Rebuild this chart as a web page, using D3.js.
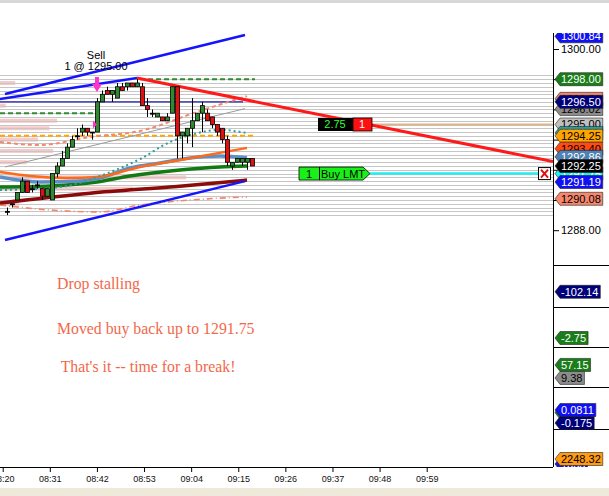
<!DOCTYPE html>
<html>
<head>
<meta charset="utf-8">
<script src="https://cdn.jsdelivr.net/npm/d3@7"></script>
<style>
  body { margin: 0; background: #fff; overflow: hidden; }
  svg { display: block; }
  text { font-family: "Liberation Sans", Arial, sans-serif; }
</style>
</head>
<body>
<div id="container"></div>
<script>
/* CONSTANTS AND GLOBALS */
const width = 609,
  height = 496,
  plot = { left: 0, right: 553, top: 33, bottom: 467 };

/* DATA */
// one candle per bar, bar index 0..49
const barOpen = [1289.25, 1289.75, 1290.00, 1290.50, 1291.25, 1290.75, 1291.00, 1290.75, 1290.25, 1290.00,
  1291.75, 1292.25, 1292.75, 1293.50, 1294.25, 1294.50, 1294.75, 1294.50, 1294.50, 1296.50,
  1297.25, 1297.00, 1296.75, 1297.50, 1297.50, 1297.75, 1297.50, 1297.50, 1296.25, 1295.75,
  1295.50, 1295.50, 1295.25, 1295.75, 1297.50, 1294.25, 1294.25, 1294.75, 1295.25, 1295.75,
  1295.75, 1295.50, 1295.00, 1294.75, 1294.00, 1292.25, 1292.50, 1292.50, 1292.50, 1292.75];
const barHigh = [1289.50, 1289.75, 1290.50, 1291.50, 1291.25, 1291.00, 1291.25, 1290.75, 1290.75, 1291.75,
  1292.50, 1293.25, 1293.75, 1294.25, 1294.75, 1295.00, 1294.75, 1294.50, 1296.75, 1297.25,
  1297.50, 1297.25, 1297.75, 1297.75, 1297.75, 1297.75, 1298.00, 1297.75, 1296.75, 1296.00,
  1295.75, 1295.50, 1295.75, 1297.50, 1297.50, 1294.50, 1294.75, 1296.75, 1295.75, 1296.50,
  1296.00, 1295.50, 1295.00, 1294.75, 1294.25, 1292.50, 1292.75, 1292.75, 1292.75, 1292.75];
const barLow = [1289.00, 1289.50, 1290.00, 1290.50, 1290.50, 1290.50, 1290.75, 1290.00, 1290.25, 1290.00,
  1291.50, 1292.25, 1292.75, 1293.50, 1294.00, 1294.25, 1294.25, 1294.00, 1294.50, 1296.50,
  1297.00, 1296.50, 1296.75, 1297.25, 1297.25, 1297.50, 1297.50, 1296.25, 1295.50, 1295.50,
  1295.50, 1295.25, 1295.25, 1295.75, 1292.75, 1292.75, 1293.75, 1293.50, 1295.25, 1294.50,
  1295.25, 1294.75, 1294.25, 1293.75, 1292.25, 1292.00, 1292.50, 1292.25, 1292.00, 1292.25];
const barClose = [1289.25, 1289.75, 1290.50, 1291.25, 1290.50, 1290.75, 1291.00, 1290.25, 1290.75, 1291.75,
  1292.25, 1292.75, 1293.50, 1294.00, 1294.25, 1294.75, 1294.50, 1294.50, 1296.50, 1297.00,
  1297.00, 1297.25, 1297.50, 1297.25, 1297.75, 1297.50, 1297.75, 1296.25, 1296.00, 1295.75,
  1295.75, 1295.25, 1295.50, 1297.50, 1294.25, 1294.50, 1294.75, 1295.25, 1295.75, 1296.25,
  1295.25, 1295.00, 1294.50, 1294.00, 1292.50, 1292.50, 1292.75, 1292.75, 1292.75, 1292.25];

// moving averages / bands as [bar index, price]
const maOrange = [[-1.4, 1291.85], [4.6, 1291.59], [12, 1291.46], [18, 1291.52], [26.6, 1292.19], [34.6, 1292.65], [48, 1293.45]];
const maSteel = [[-1.4, 1291.52], [6.6, 1291.19], [14.6, 1291.26], [18.6, 1291.46], [24.6, 1292.12], [30.6, 1292.45], [36.6, 1292.78], [42.6, 1292.91], [48, 1292.80]];
const maGreen = [[-1.4, 1290.86], [8.6, 1290.93], [18, 1291.19], [24.6, 1291.59], [34.6, 1291.99], [42.6, 1292.19], [48, 1292.25]];
const maMaroon = [[-1.4, 1289.80], [16.6, 1290.45], [34, 1290.90], [48, 1291.32]];
const maTeal = [[-1.4, 1290.66], [8.6, 1290.79], [14.6, 1291.13], [18.6, 1291.59], [26.6, 1292.71], [32.6, 1293.84], [36.6, 1294.30], [42.6, 1294.64], [48, 1294.44]];
const bandUpper = [[-1.4, 1293.84], [6.6, 1293.64], [16.6, 1294.17], [26.6, 1294.57], [38, 1295.83], [48, 1296.89]];
const bandLower = [[-1.4, 1289.67], [8.6, 1289.34], [18.6, 1289.21], [26.6, 1289.67], [36.6, 1290.00], [48, 1290.20]];
const regLine = [[-0.4, 1292.19], [47.6, 1296.05]];

// drawn trend lines
const blueTop = [[-0.4, 1297.02], [47.6, 1300.93]];
const blueMid = [[-1.4, 1296.69], [26, 1298.08]];
const blueLow = [[-0.4, 1287.35], [47.6, 1291.25]];
const redLine = [[26, 1298.08], [109.2, 1292.55]];

// volume profile
const profilePrices = [1297.75, 1296.25, 1295.25, 1294.75, 1294.00, 1293.25, 1292.50, 1291.50, 1290.75, 1289.75];
const profileVolume = [8, 3, 30, 26, 20, 28, 14, 98, 70, 10];

// price grid levels
const levelPrices = d3.range(1289, 1298.26, 0.25);

// time axis ticks
const timeTicks = ["08:20", "08:31", "08:42", "08:53", "09:04", "09:15", "09:26", "09:37", "09:48", "09:59"];
const priceTicks = [1288, 1290, 1292, 1294, 1296, 1298, 1300];

// right-hand price tags (drawn in this order)
const tagValues = [1300.84, 1296.70, 1296.02, 1296.50, 1298.00, 1295.00, 1294.44, 1294.25, 1293.40, 1292.86, 1291.75, 1291.19, 1292.25, 1290.08];
const tagFills = ["#1010f0", "#f4876e", "#8c8c8c", "#00007a", "#1a7d1a", "#c0c0c0", "#2a9d9d", "#ffa400", "#ff4a14", "#4f81b4", "#22f0f0", "#1010f0", "#000000", "#f4876e"];
const tagText = ["#fff", "#000", "#000", "#fff", "#fff", "#000", "#fff", "#000", "#000", "#fff", "#fff", "#fff", "#fff", "#000"];

// indicator panels below the price pane
const panelBounds = [[265, 307], [307, 347], [347, 387], [387, 429], [429, 467]];
const panelDomains = [[-160, 0], [-5, 5], [-24, 123], [-0.294, 0.535], [2230, 2317]];
const panelTagValues = [[-102.14], [-2.75], [57.15, 9.38], [0.03, 0.0811, -0.175], [2236.9, 2248.32]];
const panelTagLabels = [["-102.14"], ["-2.75"], ["57.15", "9.38"], ["0.033", "0.0811", "-0.175"], ["1855", "2248.32"]];
const panelTagFills = [["#00007a"], ["#1a7d1a"], ["#1a7d1a", "#8c8c8c"], ["#1a7d1a", "#1010f0", "#00007a"], ["#1010f0", "#ff9a14"]];
const panelTagText = [["#fff"], ["#fff"], ["#fff", "#000"], ["#fff", "#fff", "#fff"], ["#fff", "#000"]];

const notes = ["Drop stalling", "Moved buy back up to 1291.75", " That's it -- time for a break!"];

/* SCALES */
const xBar = d3.scaleLinear().domain([0, 49]).range([7, 252]);
const y = d3.scaleLinear().domain([1288, 1300]).range([230.2, 49]);
const parseT = d3.timeParse("%H:%M");
const xTime = d3.scaleTime().domain([parseT("08:20"), parseT("09:59")]).range([2.7, 426.7]);
const xVol = d3.scaleLinear().domain([0, 100]).range([0, 190]);

const svg = d3.select("#container").append("svg")
  .attr("width", width)
  .attr("height", height)
  .style("background", "#fff");

svg.append("defs").append("clipPath").attr("id", "plotClip")
  .append("rect").attr("x", plot.left).attr("y", plot.top)
  .attr("width", plot.right - plot.left).attr("height", plot.bottom - plot.top);
svg.select("defs").append("clipPath").attr("id", "tagClip")
  .append("rect").attr("x", plot.right).attr("y", plot.top)
  .attr("width", width - plot.right).attr("height", plot.bottom - plot.top);

// window chrome
svg.append("rect").attr("x", 0).attr("y", 0).attr("width", width).attr("height", 3).attr("fill", "#d8d8d8");
svg.append("rect").attr("x", 0).attr("y", 488).attr("width", width).attr("height", 8).attr("fill", "#efe9da");

const g = svg.append("g").attr("clip-path", "url(#plotClip)");

// volume profile
g.selectAll("rect.vol")
  .data(profilePrices)
  .join("rect")
  .attr("class", "vol")
  .attr("x", 0)
  .attr("y", d => y(d) - 2)
  .attr("width", (d, i) => xVol(profileVolume[i]))
  .attr("height", 4)
  .attr("fill", "#f7c9c9");

// price levels
g.selectAll("line.level")
  .data(levelPrices)
  .join("line")
  .attr("class", "level")
  .attr("x1", plot.left).attr("x2", plot.right)
  .attr("y1", d => Math.round(y(d)) + 0.5).attr("y2", d => Math.round(y(d)) + 0.5)
  .attr("stroke", "#c6c6c6").attr("stroke-width", 1);

function hline(price, i0, i1, color, w, dash) {
  g.append("line")
    .attr("x1", xBar(i0)).attr("x2", xBar(i1))
    .attr("y1", y(price)).attr("y2", y(price))
    .attr("stroke", color).attr("stroke-width", w)
    .attr("stroke-dasharray", dash || null);
}
hline(1296.50, -1.4, 47.2, "#1c1ca8", 1.2);
hline(1294.25, -1.4, 49.6, "#ffa400", 2, "5,3");
hline(1295.75, -1.4, 17.6, "#2e8b2e", 2, "5,3");
hline(1298.00, 26.6, 49.6, "#2e8b2e", 2, "5,3");
hline(1295.00, 73, 109.2, "#dcb58a", 2);
hline(1291.75, 72.6, 106.4, "#22eef0", 2.5);

const line = d3.line().x(d => xBar(d[0])).y(d => y(d[1])).curve(d3.curveMonotoneX);
const series = [
  [bandLower, "#f4876e", 1.6, "6,3,1,3"],
  [maMaroon, "#8b0a0a", 3.5],
  [maGreen, "#137a13", 3.5],
  [maSteel, "#5b8fc6", 3.5],
  [maOrange, "#ff6a1a", 2.5],
  [maTeal, "#2a9d9d", 2, "2,3"],
  [bandUpper, "#f4876e", 2, "4,3"],
  [regLine, "#9a9a9a", 1],
  [blueTop, "#1414ff", 2.5],
  [blueMid, "#1414ff", 2.5],
  [blueLow, "#1414ff", 2.5],
  [redLine, "#ff1a1a", 3]
];
g.selectAll("path.series")
  .data(series)
  .join("path")
  .attr("class", "series")
  .attr("d", d => line(d[0]))
  .attr("fill", "none")
  .attr("stroke", d => d[1])
  .attr("stroke-width", d => d[2])
  .attr("stroke-dasharray", d => d[3] || null);

// candles
const bars = d3.range(barOpen.length);
g.selectAll("line.wick")
  .data(bars)
  .join("line")
  .attr("class", "wick")
  .attr("x1", i => Math.round(xBar(i)) + 0.5).attr("x2", i => Math.round(xBar(i)) + 0.5)
  .attr("y1", i => y(barHigh[i])).attr("y2", i => y(barLow[i]))
  .attr("stroke", "#000").attr("stroke-width", 1);
g.selectAll("rect.body")
  .data(bars)
  .join("rect")
  .attr("class", "body")
  .attr("x", i => Math.round(xBar(i)) - 1.5)
  .attr("y", i => y(Math.max(barOpen[i], barClose[i])))
  .attr("width", 4)
  .attr("height", i => Math.max(1, Math.abs(y(barOpen[i]) - y(barClose[i]))))
  .attr("fill", i => barClose[i] > barOpen[i] ? "#2f8a2f" : barClose[i] < barOpen[i] ? "#e01010" : "#000")
  .attr("stroke", "#000").attr("stroke-width", 0.8);

// sell marker
const sx = xBar(18);
g.append("path")
  .attr("d", `M${sx - 2},${y(1298.15)} V${y(1297.68)} H${sx - 5} L${sx},${y(1297.15)} L${sx + 5},${y(1297.68)} H${sx + 2} V${y(1298.15)} Z`)
  .attr("fill", "#ff33cc");
g.append("path")
  .attr("d", `M${xBar(17.2)},${y(1295) - 4} L${xBar(18)},${y(1295)} L${xBar(17.2)},${y(1295) + 4} Z`)
  .attr("fill", "#ff33cc");
g.append("text").attr("x", sx - 1).attr("y", 59).attr("text-anchor", "middle")
  .style("font-size", "11px").text("Sell");
g.append("text").attr("x", sx - 1).attr("y", 70).attr("text-anchor", "middle")
  .style("font-size", "11px").text("1 @ 1295.00");

// position box
const py = y(1295.00);
g.append("rect").attr("x", 318).attr("y", py - 6.5).attr("width", 35).attr("height", 13).attr("fill", "#000");
g.append("text").attr("x", 335).attr("y", py).attr("dy", "0.36em").attr("text-anchor", "middle")
  .style("font-size", "11px").attr("fill", "#33ff33").text("2.75");
g.append("rect").attr("x", 353).attr("y", py - 6.5).attr("width", 19).attr("height", 13)
  .attr("fill", "#ff1010").attr("stroke", "#000").attr("stroke-width", 0.8);
g.append("text").attr("x", 362).attr("y", py).attr("dy", "0.36em").attr("text-anchor", "middle")
  .style("font-size", "11px").attr("fill", "#fff").text("1");

// working order
const oy = y(1291.75);
g.append("path")
  .attr("d", `M299,${oy - 6.5} H363 L370,${oy} L363,${oy + 6.5} H299 Z`)
  .attr("fill", "#19f019").attr("stroke", "#000").attr("stroke-width", 0.8);
g.append("line").attr("x1", 319.5).attr("x2", 319.5).attr("y1", oy - 6.5).attr("y2", oy + 6.5).attr("stroke", "#000");
g.append("text").attr("x", 309).attr("y", oy).attr("dy", "0.36em").attr("text-anchor", "middle")
  .style("font-size", "11px").text("1");
g.append("text").attr("x", 321).attr("y", oy).attr("dy", "0.36em")
  .style("font-size", "11px").text("Buy LMT");
g.append("rect").attr("x", 538.5).attr("y", oy - 6).attr("width", 12).attr("height", 12)
  .attr("fill", "#fff").attr("stroke", "#000");
g.append("path").attr("d", `M541,${oy - 4} L548,${oy + 4} M548,${oy - 4} L541,${oy + 4}`)
  .attr("stroke", "#e01010").attr("stroke-width", 2);

// notes
svg.selectAll("text.note")
  .data(notes)
  .join("text")
  .attr("class", "note")
  .attr("x", 57)
  .attr("y", (d, i) => [289, 334, 372][i])
  .attr("fill", "#f2684a")
  .style("font-family", "'Liberation Serif', 'DejaVu Serif', serif")
  .style("font-size", "15.8px")
  .style("white-space", "pre")
  .attr("xml:space", "preserve")
  .text(d => d);

/* AXES */
const xAxis = d3.axisBottom(xTime)
  .tickValues(timeTicks.map(parseT))
  .tickFormat(d3.timeFormat("%H:%M"))
  .tickSize(5).tickPadding(4);
const xg = svg.append("g").attr("transform", `translate(0,${plot.bottom})`).call(xAxis);
xg.select(".domain").remove();
xg.selectAll("text").style("font-size", "9px").attr("fill", "#111").style("font-family", "'Liberation Sans', Arial, sans-serif");
svg.append("line").attr("x1", 0).attr("x2", plot.right).attr("y1", plot.bottom + 0.5).attr("y2", plot.bottom + 0.5).attr("stroke", "#000");

const yAxis = d3.axisRight(y)
  .tickValues(priceTicks)
  .tickFormat(d3.format(".2f"))
  .tickSize(6).tickPadding(2);
const yg = svg.append("g").attr("transform", `translate(${plot.right},0)`).call(yAxis);
yg.select(".domain").remove();
yg.selectAll("text").style("font-size", "11px").style("font-family", "'Liberation Sans', Arial, sans-serif");
svg.append("line").attr("x1", plot.right + 0.5).attr("x2", plot.right + 0.5).attr("y1", plot.top).attr("y2", plot.bottom).attr("stroke", "#000");

// panel separators on the axis column
svg.selectAll("line.sep")
  .data(panelBounds)
  .join("line")
  .attr("class", "sep")
  .attr("x1", plot.right).attr("x2", width)
  .attr("y1", d => d[0] + 0.5).attr("y2", d => d[0] + 0.5)
  .attr("stroke", "#000");

/* PRICE TAGS */
const tags = svg.append("g").attr("clip-path", "url(#tagClip)");
function drawTag(yPos, label, fill, textFill) {
  const tg = tags.append("g").attr("transform", `translate(${plot.right + 2},${yPos})`);
  const p = tg.append("path");
  const t = tg.append("text").attr("x", 6).attr("dy", "0.36em")
    .style("font-size", "11px").attr("fill", textFill).text(label);
  const w = t.node().getComputedTextLength() + 8;
  p.attr("d", `M0,0 L5,-6.5 H${w} V6.5 H5 Z`)
    .attr("fill", fill).attr("stroke", "#222").attr("stroke-width", 0.6);
}
tagValues.forEach((v, i) => drawTag(y(v), v.toFixed(2), tagFills[i], tagText[i]));

panelBounds.forEach((b, p) => {
  const py = d3.scaleLinear().domain(panelDomains[p]).range([b[1], b[0]]);
  panelTagValues[p].forEach((v, j) => drawTag(py(v), panelTagLabels[p][j], panelTagFills[p][j], panelTagText[p][j]));
});
</script>
</body>
</html>
